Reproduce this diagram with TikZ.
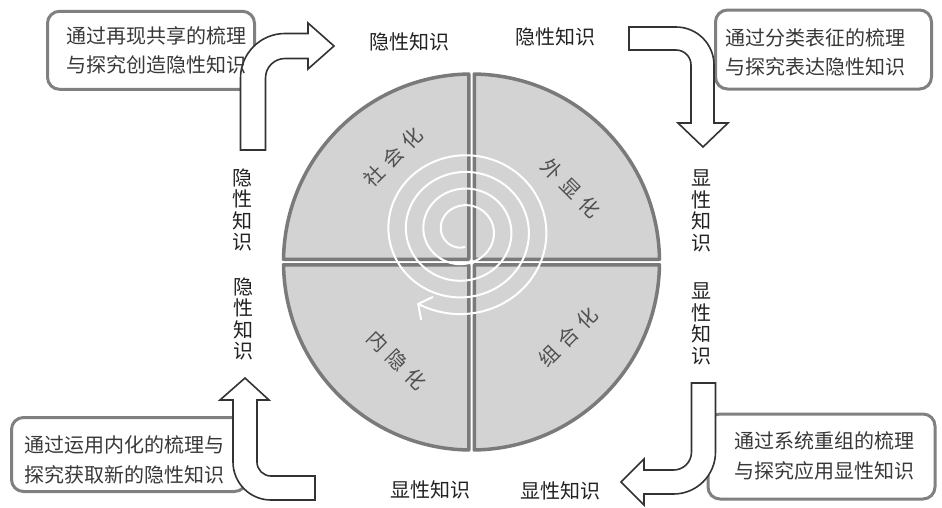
\documentclass[tikz,border=0pt]{standalone}
\usepackage{fontspec}
\newfontfamily\cjk{Noto Sans CJK SC}
\usetikzlibrary{arrows.meta}
\definecolor{quadfill}{HTML}{D3D3D3}
\definecolor{quadline}{HTML}{7A7A7A}
\definecolor{boxline}{HTML}{808080}
\definecolor{arrowline}{HTML}{333333}
\definecolor{labeltext}{HTML}{222222}
\definecolor{boxtext}{HTML}{383838}
\definecolor{quadtext}{HTML}{505050}
\begin{document}
\begin{tikzpicture}[x=1pt,y=-1pt,
  quad/.style={draw=quadline, fill=quadfill, line width=3.5pt, line join=round},
  tipbox/.style={draw=boxline, line width=3pt, rounded corners=12pt, fill=white, inner sep=0pt},
  bigarrow/.style={draw=arrowline, fill=white, line width=1.6pt, line join=miter},
  lbl/.style={font=\cjk\fontsize{20}{21.5}\selectfont, text=labeltext, inner sep=0pt, align=center},
  boxtxt/.style={font=\cjk\fontsize{20}{29.5}\selectfont, text=boxtext, inner sep=0pt, align=left},
  quadlbl/.style={font=\cjk\fontsize{20}{20}\selectfont, text=quadtext, inner sep=0pt},
  spiral/.style={draw=white, line width=2pt, line cap=round, line join=round}]
\useasboundingbox (0,0) rectangle (942,507);
\fill[white] (0,0) rectangle (942,507);

% ---- circle of four quadrants ----
\coordinate (C) at (471.5,262);
\begin{scope}[shift={(C)}]
  \def\R{188}\def\g{2.75}\def\d{0.84}
  \draw[quad] (-\g,-\g) -- (180+\d:\R) arc[start angle=180+\d, end angle=270-\d, radius=\R] -- cycle;
  \draw[quad] (\g,-\g) -- (270+\d:\R) arc[start angle=270+\d, end angle=360-\d, radius=\R] -- cycle;
  \draw[quad] (\g,\g) -- (\d:\R) arc[start angle=\d, end angle=90-\d, radius=\R] -- cycle;
  \draw[quad] (-\g,\g) -- (90+\d:\R) arc[start angle=90+\d, end angle=180-\d, radius=\R] -- cycle;
\end{scope}

% ---- white spiral ----
\draw[spiral, -{Straight Barb[length=10pt,width=26pt]}]
  plot[domain=84:1561, samples=500, smooth, variable=\t]
  ({463+1.05*(25.2+(\t-270)*0.0463)*cos(\t)}, {230.5+(25.2+(\t-270)*0.0463)*sin(\t)});

% ---- quadrant labels ----
\node[quadlbl, rotate=45]  (soc) at (393,157) {社\hspace{7pt}会\hspace{7pt}化};
\node[quadlbl, rotate=-45] (ext) at (571,188) {外\hspace{7pt}显\hspace{7pt}化};
\node[quadlbl, rotate=45]  (com) at (568,337) {组\hspace{7pt}合\hspace{7pt}化};
\node[quadlbl, rotate=-45] (int) at (397,360) {内\hspace{7pt}隐\hspace{7pt}化};

% ---- boxes ----
\node[tipbox, minimum width=207pt, minimum height=78pt] (box1) at (151,50.3) {};
\node[tipbox, minimum width=216pt, minimum height=79pt] (box2) at (823.5,49.5) {};
\node[tipbox, minimum width=227pt, minimum height=85pt] (box3) at (821.5,456.5) {};
\node[tipbox, minimum width=235pt, minimum height=74pt] (box4) at (129,454.5) {};

% ---- bent block arrows ----
% top-left: up then right
\draw[bigarrow] (240.5,150) -- (240.5,78) arc[start angle=180, end angle=270, radius=44.5]
  -- (308,33.5) -- (308,23) -- (334,46) -- (308,69) -- (308,58.5) -- (285,58.5)
  arc[start angle=270, end angle=180, radius=19.5] -- (265.5,150) -- cycle;
% top-right: right then down
\draw[bigarrow] (629,27) -- (676,27) arc[start angle=270, end angle=360, radius=38]
  -- (714,123) -- (728,123) -- (703,147) -- (678,123) -- (691,123) -- (691,65)
  arc[start angle=0, end angle=-90, radius=15] -- (629,50) -- cycle;
% bottom-right: down then left
\draw[bigarrow] (691.5,383) -- (715.5,383) -- (715.5,452) arc[start angle=0, end angle=90, radius=42]
  -- (644,494) -- (644,505) -- (621,482) -- (644,459) -- (644,470) -- (673.5,470)
  arc[start angle=90, end angle=0, radius=18] -- cycle;
% bottom-left: right then up
\draw[bigarrow] (245,378) -- (269,400) -- (257,400) -- (257,462)
  arc[start angle=180, end angle=90, radius=14] -- (315,476) -- (315,500) -- (271,500)
  arc[start angle=90, end angle=180, radius=38] -- (233,400) -- (220,400) -- cycle;

% ---- box texts ----
\node[boxtxt] (t1) at (156,50.5) {通过再现共享的梳理\\与探究创造隐性知识};
\node[boxtxt] (t2) at (815,52.5) {通过分类表征的梳理\\与探究表达隐性知识};
\node[boxtxt] (t3) at (824.5,456) {通过系统重组的梳理\\与探究应用显性知识};
\node[boxtxt] (t4) at (124.5,460) {通过运用内化的梳理与\\探究获取新的隐性知识};

% ---- knowledge labels ----
\node[lbl] (k1) at (409,42) {隐性知识};
\node[lbl] (k2) at (555,37) {隐性知识};
\node[lbl] (k3) at (701,211) {显\\性\\知\\识};
\node[lbl] (k4) at (701,324) {显\\性\\知\\识};
\node[lbl] (k5) at (560,491) {显性知识};
\node[lbl] (k6) at (430,490) {显性知识};
\node[lbl] (k7) at (243,319) {隐\\性\\知\\识};
\node[lbl] (k8) at (242,210) {隐\\性\\知\\识};
\end{tikzpicture}
\end{document}
